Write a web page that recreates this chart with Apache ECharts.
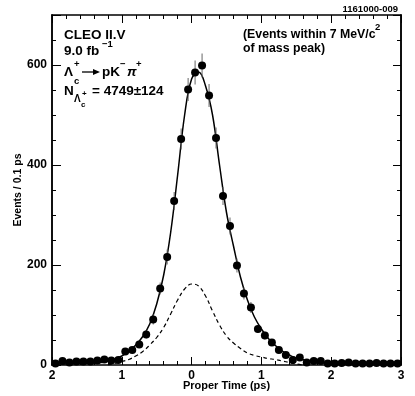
<!DOCTYPE html>
<html>
<head>
<meta charset="utf-8">
<script src="https://cdn.jsdelivr.net/npm/echarts@6.0.0/dist/echarts.min.js"></script>
<style>
  html, body { margin: 0; padding: 0; background: #fff; }
  #chart { width: 415px; height: 396px; }
</style>
</head>
<body>
<div id="chart"></div>
<script>
// bin centres (ps), 0.1 ps bins
var timeBins = [-1.95, -1.85, -1.75, -1.65, -1.55, -1.45, -1.35, -1.25, -1.15, -1.05,
                -0.95, -0.85, -0.75, -0.65, -0.55, -0.45, -0.35, -0.25, -0.15, -0.05,
                 0.05,  0.15,  0.25,  0.35,  0.45,  0.55,  0.65,  0.75,  0.85,  0.95,
                 1.05,  1.15,  1.25,  1.35,  1.45,  1.55,  1.65,  1.75,  1.85,  1.95,
                 2.05,  2.15,  2.25,  2.35,  2.45,  2.55,  2.65,  2.75,  2.85,  2.95];
// events per bin
var counts = [3, 8, 5, 7, 7, 7, 9, 11, 9, 10,
              27, 30, 41, 61, 91, 153, 216, 328, 452, 551,
              585, 599, 539, 454, 338, 278, 199, 143, 115, 72,
              59, 45, 30, 20, 10, 15, 5, 8, 8, 3,
              3, 4, 5, 3, 3, 3, 4, 3, 3, 3];
// error bar half-lengths
var errors = [2, 3, 2, 3, 3, 3, 3, 3, 3, 3,
              5, 5, 6, 8, 10, 12, 15, 18, 21, 23,
              24, 24, 23, 21, 18, 17, 14, 12, 11, 8,
              8, 7, 5, 4, 3, 4, 2, 3, 3, 2,
              2, 2, 2, 2, 2, 2, 2, 2, 2, 2];

// fit curve (solid)
var fitT = [-2.0, -1.6, -1.3, -1.2, -1.1, -1.0, -0.9, -0.8, -0.7, -0.6, -0.5, -0.4, -0.3, -0.2, -0.1,
            0.0, 0.1, 0.2, 0.3, 0.4, 0.5, 0.6, 0.7, 0.8, 0.9, 1.0, 1.1, 1.2, 1.3, 1.4, 1.5, 1.7, 2.0, 2.5, 3.0];
var fitY = [2, 3, 5, 8, 12, 18, 27, 40, 57, 82, 122, 180, 265, 380, 500,
            572, 586, 558, 500, 400, 305, 238, 176, 130, 96, 72, 53, 39, 28, 20, 14, 8, 4, 3, 2];

// background component (dashed)
var bkgT = [-1.2, -1.1, -1.0, -0.9, -0.8, -0.7, -0.6, -0.5, -0.4, -0.3, -0.2, -0.1,
            0.0, 0.1, 0.2, 0.3, 0.4, 0.5, 0.6, 0.7, 0.8, 0.9, 1.0, 1.1, 1.2, 1.3, 1.4, 1.5, 1.6];
var bkgY = [0, 3, 7, 11, 18, 27, 40, 55, 75, 102, 130, 152,
            162, 158, 138, 108, 80, 58, 44, 33, 24, 19, 16, 13, 11, 8, 5, 2, 0];

var yTickLabels = [0, 200, 400, 600];

var FONT = '"Liberation Sans", Arial, sans-serif';

var chart = echarts.init(document.getElementById('chart'), null, { renderer: 'canvas' });

function xAxisCfg(pos, labels) {
  return {
    type: 'value', position: pos, min: -2, max: 3, interval: 1,
    axisLine: { show: true, onZero: false, lineStyle: { color: '#000', width: 1.5 } },
    axisTick: { show: true, inside: true, length: 8, lineStyle: { color: '#000', width: 1 } },
    minorTick: { show: true, splitNumber: 5, length: 4, lineStyle: { color: '#000', width: 1 } },
    splitLine: { show: false },
    axisLabel: {
      show: labels, color: '#000', fontFamily: FONT, fontWeight: 'bold', fontSize: 12, margin: 5,
      formatter: function (v) { return String(Math.abs(v)); }
    }
  };
}

function yAxisCfg(pos, step, len, labels) {
  return {
    type: 'value', position: pos, min: 0, max: 700, interval: step,
    axisLine: { show: true, onZero: false, lineStyle: { color: '#000', width: 1.5 } },
    axisTick: { show: true, inside: true, length: len, lineStyle: { color: '#000', width: 1 } },
    splitLine: { show: false },
    axisLabel: {
      show: labels, color: '#000', fontFamily: FONT, fontWeight: 'bold', fontSize: 12, margin: 5,
      formatter: function (v) { return yTickLabels.indexOf(v) >= 0 ? String(v) : ''; }
    }
  };
}

var xBottom = xAxisCfg('bottom', true);
xBottom.name = 'Proper Time (ps)';
xBottom.nameLocation = 'middle';
xBottom.nameGap = 15;
xBottom.nameMoveOverlap = false;
xBottom.nameTextStyle = { color: '#000', fontFamily: FONT, fontWeight: 'bold', fontSize: 11 };

var yMain = yAxisCfg('left', 200, 9, true);
yMain.name = 'Events / 0.1 ps';
yMain.nameLocation = 'middle';
yMain.nameGap = 28;
yMain.nameMoveOverlap = false;
yMain.nameTextStyle = { color: '#000', fontFamily: FONT, fontWeight: 'bold', fontSize: 10.5 };

var pts = timeBins.map(function (t, i) { return [t, counts[i]]; });
var errData = timeBins.map(function (t, i) { return [t, counts[i], errors[i]]; });
var fitData = fitT.map(function (t, i) { return [t, fitY[i]]; });
var bkgData = bkgT.map(function (t, i) { return [t, bkgY[i]]; });

function txt(str, x, y, size, extra, align) {
  return {
    type: 'text', x: x, y: y, silent: true,
    style: {
      text: str, fill: '#000', verticalAlign: 'middle', align: align || 'left',
      font: (extra || '') + 'bold ' + size + 'px ' + FONT
    }
  };
}

chart.setOption({
  animation: false,
  backgroundColor: '#fff',
  grid: { left: 52, right: 14, top: 15, bottom: 31, outerBoundsMode: 'none' },
  xAxis: [xBottom, xAxisCfg('top', false)],
  yAxis: [yMain, yAxisCfg('left', 50, 4, false), yAxisCfg('right', 200, 8, false), yAxisCfg('right', 50, 4, false)],
  series: [
    {
      type: 'line', data: bkgData, smooth: 0.4, symbol: 'none',
      lineStyle: { color: '#000', width: 1.2, type: [4, 3] }, z: 2
    },
    {
      type: 'line', data: fitData, smooth: 0.4, symbol: 'none',
      lineStyle: { color: '#000', width: 1.5 }, z: 3
    },
    {
      type: 'custom', data: errData, z: 4,
      renderItem: function (params, api) {
        var x = api.value(0), y = api.value(1), e = api.value(2);
        var p1 = api.coord([x, y - e]), p2 = api.coord([x, y + e]);
        return { type: 'line', shape: { x1: p1[0], y1: p1[1], x2: p2[0], y2: p2[1] },
                 style: { stroke: '#666', lineWidth: 1 } };
      }
    },
    {
      type: 'scatter', data: pts, symbol: 'circle', symbolSize: 8,
      itemStyle: { color: '#000', opacity: 1 }, z: 5
    }
  ],
  graphic: [
    txt('1161000-009', 398, 9, 9.5, '', 'right'),
    txt('CLEO II.V', 64, 35, 13.5),
    txt('9.0 fb', 64, 51, 13.5),
    txt('\u22121', 102, 44, 9.5),
    txt('\u039b', 64, 72, 13.5),
    txt('+', 74, 64, 9.5),
    txt('c', 74, 81, 9.5),
    // reaction arrow
    { type: 'line', silent: true, shape: { x1: 82, y1: 72, x2: 94, y2: 72 },
      style: { stroke: '#000', lineWidth: 1.3 } },
    { type: 'polygon', silent: true, shape: { points: [[93, 69], [100, 72], [93, 75]] },
      style: { fill: '#000' } },
    txt('pK', 102, 72, 13.5),
    txt('\u2212', 120, 64, 9.5),
    txt('\u03c0', 127, 72, 13.5, 'italic '),
    txt('+', 136, 64, 9.5),
    txt('N', 64, 91, 13.5),
    txt('\u039b', 74, 99, 10),
    txt('+', 82, 94, 8),
    txt('c', 81, 105, 8),
    txt('= 4749\u00b1124', 92, 91, 13.5),
    txt('(Events within 7 MeV/c', 243, 35, 12.3),
    txt('2', 375, 27, 9.5),
    txt('of mass peak)', 243, 49, 12.3)
  ]
});
</script>
</body>
</html>
